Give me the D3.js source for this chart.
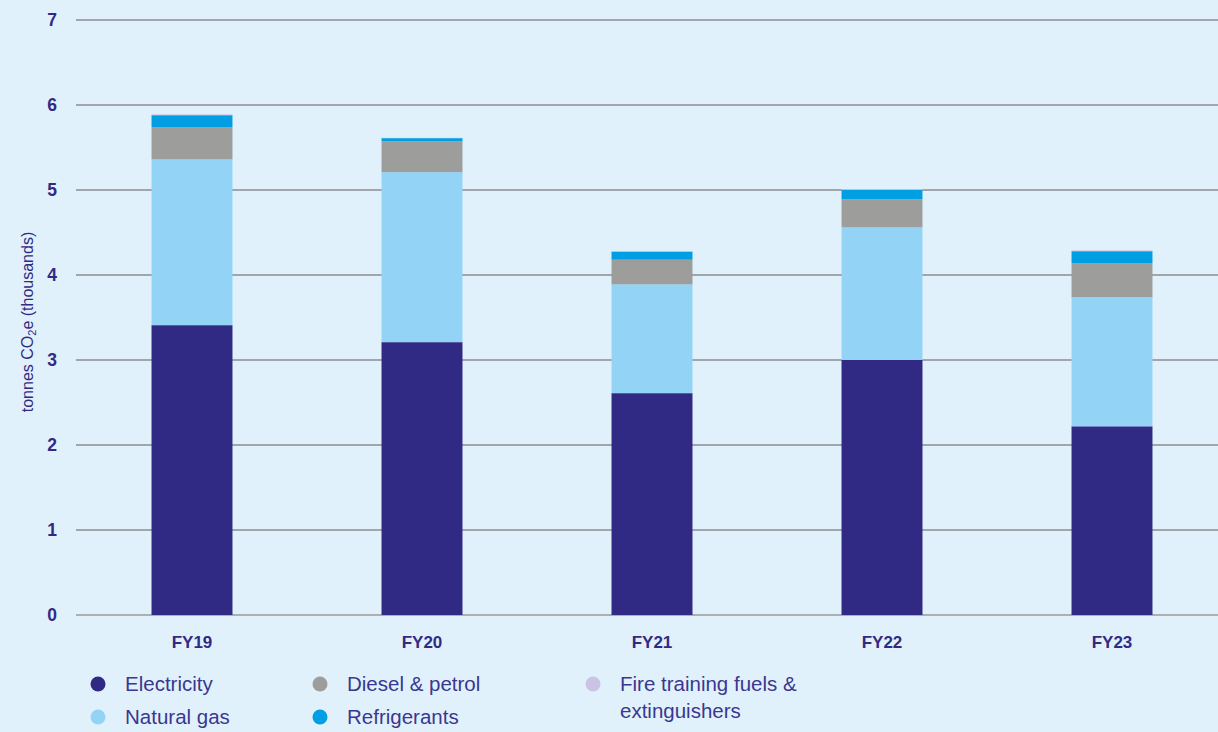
<!DOCTYPE html>
<html>
<head>
<meta charset="utf-8">
<script src="https://cdn.jsdelivr.net/npm/d3@7"></script>
<style>
  html, body { margin: 0; padding: 0; background: #e1f1fb; }
  svg { display: block; font-family: "Liberation Sans", Arial, sans-serif; }
</style>
</head>
<body>
<svg id="chart" width="1218" height="732"></svg>
<script>
// Scope 1 & 2 emissions by source, thousand tonnes CO2e
const years = ["FY19", "FY20", "FY21", "FY22", "FY23"];
const electricity = [3.41, 3.21, 2.61, 3.00, 2.22];
const naturalGas = [1.95, 2.00, 1.28, 1.56, 1.52];
const dieselPetrol = [0.38, 0.365, 0.29, 0.33, 0.40];
const refrigerants = [0.14, 0.035, 0.095, 0.11, 0.14];
const fireTraining = [0.01, 0.005, 0.005, 0.01, 0.01];
const yTicks = [0, 1, 2, 3, 4, 5, 6, 7];

const seriesNames = ["Electricity", "Natural gas", "Diesel & petrol", "Refrigerants", "Fire training fuels & extinguishers"];
const seriesKeys = ["electricity", "naturalGas", "dieselPetrol", "refrigerants", "fireTraining"];
const colors = ["#312a85", "#93d4f6", "#9d9d9c", "#009fe3", "#cbc3e3"];

const rows = years.map((y, i) => ({
  year: y,
  electricity: electricity[i],
  naturalGas: naturalGas[i],
  dieselPetrol: dieselPetrol[i],
  refrigerants: refrigerants[i],
  fireTraining: fireTraining[i]
}));

const svg = d3.select("#chart");
const textColor = "#312a85";

const x = d3.scaleBand().domain(years).range([77, 1227]).paddingInner(0.648).paddingOuter(0.324);
const y = d3.scaleLinear().domain([0, 7]).range([615, 20]);

// gridlines
svg.append("g").selectAll("line").data(yTicks).join("line")
  .attr("x1", 76).attr("x2", 1218)
  .attr("y1", d => y(d)).attr("y2", d => y(d))
  .attr("stroke", d => d === 0 ? "#9a9a9a" : "#8a8c91")
  .attr("stroke-width", 1.3);

// tick labels
svg.append("g").selectAll("text").data(yTicks).join("text")
  .attr("x", 57).attr("y", d => y(d)).attr("dy", "0.36em")
  .attr("text-anchor", "end")
  .attr("fill", textColor)
  .attr("font-size", 17.5).attr("font-weight", "bold")
  .text(d => d);

// stacked bars
const stack = d3.stack().keys(seriesKeys);
const stacked = stack(rows);
svg.append("g").selectAll("g").data(stacked).join("g")
  .attr("fill", (d, i) => colors[i])
  .selectAll("rect").data(d => d).join("rect")
  .attr("x", d => x(d.data.year))
  .attr("width", x.bandwidth())
  .attr("y", d => y(d[1]))
  .attr("height", d => y(d[0]) - y(d[1]));

// category labels
svg.append("g").selectAll("text").data(years).join("text")
  .attr("x", d => x(d) + x.bandwidth() / 2).attr("y", 648)
  .attr("text-anchor", "middle")
  .attr("fill", textColor)
  .attr("font-size", 17).attr("font-weight", "bold")
  .text(d => d);

// axis title
const title = svg.append("text")
  .attr("transform", "translate(33,322) rotate(-90)")
  .attr("text-anchor", "middle")
  .attr("fill", textColor)
  .attr("font-size", 16);
title.append("tspan").text("tonnes CO");
title.append("tspan").attr("font-size", 11).attr("dy", 3).text("2");
title.append("tspan").attr("dy", -3).text("e (thousands)");

// legend
const legendItems = [
  { i: 0, x: 98, y: 684 },
  { i: 1, x: 98, y: 717 },
  { i: 2, x: 320, y: 684 },
  { i: 3, x: 320, y: 717 },
  { i: 4, x: 593, y: 684 }
];
const lg = svg.append("g");
legendItems.forEach(it => {
  lg.append("circle").attr("cx", it.x).attr("cy", it.y).attr("r", 7.5).attr("fill", colors[it.i]);
  const t = lg.append("text")
    .attr("x", it.x + 27).attr("y", it.y).attr("dy", "0.35em")
    .attr("fill", "#3a3790")
    .attr("font-size", 20.5);
  if (it.i === 4) {
    t.append("tspan").text("Fire training fuels &");
    t.append("tspan").attr("x", it.x + 27).attr("dy", 27).text("extinguishers");
  } else {
    t.text(seriesNames[it.i]);
  }
});
</script>
</body>
</html>
